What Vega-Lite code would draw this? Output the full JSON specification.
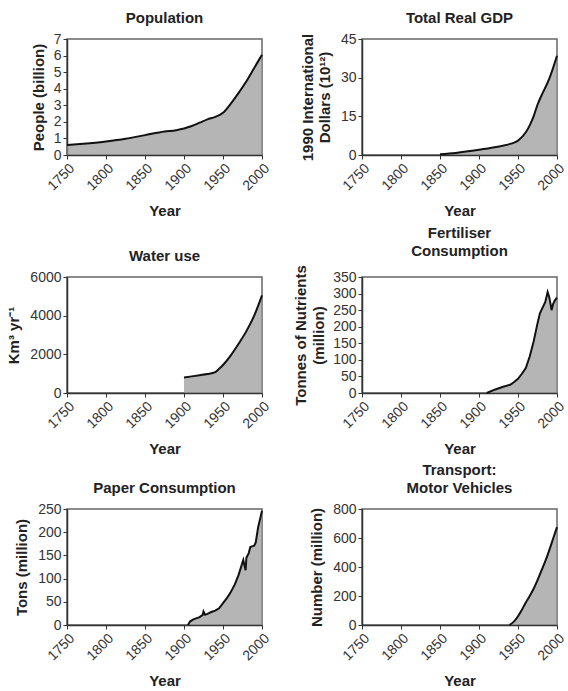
{
  "$schema": "https://vega.github.io/schema/vega-lite/v6.json",
  "padding": {"left": 6, "top": 10, "right": 2, "bottom": 2},
  "background": "white",
  "config": {
    "font": "Liberation Sans",
    "view": {"stroke": "#666", "strokeWidth": 1.5},
    "title": {"fontSize": 15, "fontWeight": "bold", "color": "#222", "offset": 6, "lineHeight": 18},
    "axis": {
      "grid": false,
      "domainColor": "#333",
      "domainWidth": 1.5,
      "tickColor": "#333",
      "tickSize": 4,
      "labelColor": "#333",
      "labelFontSize": 14,
      "labelPadding": 2,
      "titleFontSize": 15,
      "titleFontWeight": "bold",
      "titleColor": "#222"
    },
    "axisX": {"labelAngle": -45, "titlePadding": 11, "labelFlush": false}
  },
  "datasets": {
    "population": [
      {"year": 1750, "value": 0.6}, {"year": 1775, "value": 0.7}, {"year": 1800, "value": 0.82},
      {"year": 1825, "value": 0.98}, {"year": 1850, "value": 1.2}, {"year": 1875, "value": 1.42},
      {"year": 1890, "value": 1.5}, {"year": 1900, "value": 1.6}, {"year": 1910, "value": 1.75},
      {"year": 1920, "value": 1.95}, {"year": 1930, "value": 2.15}, {"year": 1940, "value": 2.3},
      {"year": 1950, "value": 2.55}, {"year": 1960, "value": 3.1}, {"year": 1970, "value": 3.75},
      {"year": 1980, "value": 4.45}, {"year": 1990, "value": 5.25}, {"year": 2000, "value": 6.05}
    ],
    "gdp": [
      {"year": 1850, "value": 0.3}, {"year": 1870, "value": 0.8}, {"year": 1900, "value": 2.0},
      {"year": 1920, "value": 3.0}, {"year": 1940, "value": 4.3}, {"year": 1945, "value": 4.8},
      {"year": 1950, "value": 5.6}, {"year": 1960, "value": 8.8}, {"year": 1965, "value": 11.5},
      {"year": 1970, "value": 15}, {"year": 1975, "value": 19.5}, {"year": 1980, "value": 23},
      {"year": 1990, "value": 29.5}, {"year": 2000, "value": 38.5}
    ],
    "water": [
      {"year": 1900, "value": 800}, {"year": 1910, "value": 860}, {"year": 1920, "value": 920},
      {"year": 1930, "value": 980}, {"year": 1940, "value": 1080}, {"year": 1945, "value": 1250},
      {"year": 1950, "value": 1450}, {"year": 1960, "value": 1950}, {"year": 1970, "value": 2550},
      {"year": 1980, "value": 3200}, {"year": 1990, "value": 4000}, {"year": 2000, "value": 5050}
    ],
    "fertiliser": [
      {"year": 1910, "value": 0}, {"year": 1920, "value": 10}, {"year": 1930, "value": 18},
      {"year": 1940, "value": 25}, {"year": 1945, "value": 33}, {"year": 1950, "value": 43},
      {"year": 1955, "value": 58}, {"year": 1960, "value": 75}, {"year": 1965, "value": 110},
      {"year": 1970, "value": 155}, {"year": 1975, "value": 210}, {"year": 1978, "value": 240},
      {"year": 1980, "value": 250}, {"year": 1985, "value": 275}, {"year": 1988, "value": 305},
      {"year": 1990, "value": 290}, {"year": 1992, "value": 265}, {"year": 1993, "value": 250},
      {"year": 1995, "value": 268}, {"year": 1997, "value": 278}, {"year": 1999, "value": 285},
      {"year": 2000, "value": 283}
    ],
    "paper": [
      {"year": 1905, "value": 0}, {"year": 1908, "value": 8}, {"year": 1912, "value": 12},
      {"year": 1920, "value": 17}, {"year": 1924, "value": 22}, {"year": 1925, "value": 29},
      {"year": 1927, "value": 22}, {"year": 1930, "value": 24}, {"year": 1935, "value": 28},
      {"year": 1940, "value": 31}, {"year": 1945, "value": 36}, {"year": 1950, "value": 47},
      {"year": 1955, "value": 58}, {"year": 1960, "value": 71}, {"year": 1965, "value": 87},
      {"year": 1970, "value": 108}, {"year": 1975, "value": 135}, {"year": 1976, "value": 140},
      {"year": 1978, "value": 125}, {"year": 1979, "value": 118}, {"year": 1980, "value": 145},
      {"year": 1983, "value": 155}, {"year": 1985, "value": 168}, {"year": 1988, "value": 170},
      {"year": 1990, "value": 171}, {"year": 1992, "value": 178}, {"year": 1995, "value": 210},
      {"year": 1998, "value": 232}, {"year": 2000, "value": 246}
    ],
    "motor": [
      {"year": 1939, "value": 0}, {"year": 1945, "value": 25}, {"year": 1950, "value": 60},
      {"year": 1955, "value": 105}, {"year": 1960, "value": 155}, {"year": 1965, "value": 200},
      {"year": 1970, "value": 250}, {"year": 1975, "value": 310}, {"year": 1980, "value": 375},
      {"year": 1985, "value": 440}, {"year": 1990, "value": 515}, {"year": 1995, "value": 595},
      {"year": 2000, "value": 675}
    ]
  },
  "columns": 2,
  "spacing": {"row": 4, "column": 19},
  "concat": [
    {
      "title": "Population",
      "width": 195, "height": 116,
      "data": {"name": "population"},
      "mark": {"type": "area", "color": "#959595", "interpolate": "monotone", "line": {"color": "#111", "strokeWidth": 2}},
      "encoding": {
        "x": {"field": "year", "type": "quantitative", "scale": {"domain": [1750, 2000], "nice": false},
              "axis": {"values": [1750, 1800, 1850, 1900, 1950, 2000], "format": "d", "title": "Year"}},
        "y": {"field": "value", "type": "quantitative", "scale": {"domain": [0, 7], "nice": false},
              "axis": {"values": [0, 1, 2, 3, 4, 5, 6, 7], "format": "d", "title": "People (billion)", "titlePadding": 7}}
      }
    },
    {
      "title": "Total Real GDP",
      "width": 195, "height": 116,
      "data": {"name": "gdp"},
      "mark": {"type": "area", "color": "#959595", "interpolate": "monotone", "line": {"color": "#111", "strokeWidth": 2}},
      "encoding": {
        "x": {"field": "year", "type": "quantitative", "scale": {"domain": [1750, 2000], "nice": false},
              "axis": {"values": [1750, 1800, 1850, 1900, 1950, 2000], "format": "d", "title": "Year"}},
        "y": {"field": "value", "type": "quantitative", "scale": {"domain": [0, 45], "nice": false},
              "axis": {"values": [0, 15, 30, 45], "format": "d", "title": ["1990 International", "Dollars (10¹²)"], "titlePadding": 8, "titleLineHeight": 17}}
      }
    },
    {
      "title": "Water use",
      "width": 195, "height": 116,
      "data": {"name": "water"},
      "mark": {"type": "area", "color": "#959595", "interpolate": "monotone", "line": {"color": "#111", "strokeWidth": 2}},
      "encoding": {
        "x": {"field": "year", "type": "quantitative", "scale": {"domain": [1750, 2000], "nice": false},
              "axis": {"values": [1750, 1800, 1850, 1900, 1950, 2000], "format": "d", "title": "Year"}},
        "y": {"field": "value", "type": "quantitative", "scale": {"domain": [0, 6000], "nice": false},
              "axis": {"values": [0, 2000, 4000, 6000], "format": "d", "title": "Km³ yr⁻¹", "titlePadding": 8}}
      }
    },
    {
      "title": {"text": ["Fertiliser", "Consumption"]},
      "width": 195, "height": 116,
      "data": {"name": "fertiliser"},
      "mark": {"type": "area", "color": "#959595", "interpolate": "linear", "line": {"color": "#111", "strokeWidth": 2}},
      "encoding": {
        "x": {"field": "year", "type": "quantitative", "scale": {"domain": [1750, 2000], "nice": false},
              "axis": {"values": [1750, 1800, 1850, 1900, 1950, 2000], "format": "d", "title": "Year"}},
        "y": {"field": "value", "type": "quantitative", "scale": {"domain": [0, 350], "nice": false},
              "axis": {"values": [0, 50, 100, 150, 200, 250, 300, 350], "format": "d", "title": ["Tonnes of Nutrients", "(million)"], "titlePadding": 6, "titleLineHeight": 18}}
      }
    },
    {
      "title": "Paper Consumption",
      "width": 195, "height": 116,
      "data": {"name": "paper"},
      "mark": {"type": "area", "color": "#959595", "interpolate": "linear", "line": {"color": "#111", "strokeWidth": 2}},
      "encoding": {
        "x": {"field": "year", "type": "quantitative", "scale": {"domain": [1750, 2000], "nice": false},
              "axis": {"values": [1750, 1800, 1850, 1900, 1950, 2000], "format": "d", "title": "Year"}},
        "y": {"field": "value", "type": "quantitative", "scale": {"domain": [0, 250], "nice": false},
              "axis": {"values": [0, 50, 100, 150, 200, 250], "format": "d", "title": "Tons (million)", "titlePadding": 8}}
      }
    },
    {
      "title": {"text": ["Transport:", "Motor Vehicles"]},
      "width": 195, "height": 116,
      "data": {"name": "motor"},
      "mark": {"type": "area", "color": "#959595", "interpolate": "monotone", "line": {"color": "#111", "strokeWidth": 2}},
      "encoding": {
        "x": {"field": "year", "type": "quantitative", "scale": {"domain": [1750, 2000], "nice": false},
              "axis": {"values": [1750, 1800, 1850, 1900, 1950, 2000], "format": "d", "title": "Year"}},
        "y": {"field": "value", "type": "quantitative", "scale": {"domain": [0, 800], "nice": false},
              "axis": {"values": [0, 200, 400, 600, 800], "format": "d", "title": "Number (million)", "titlePadding": 8}}
      }
    }
  ]
}
